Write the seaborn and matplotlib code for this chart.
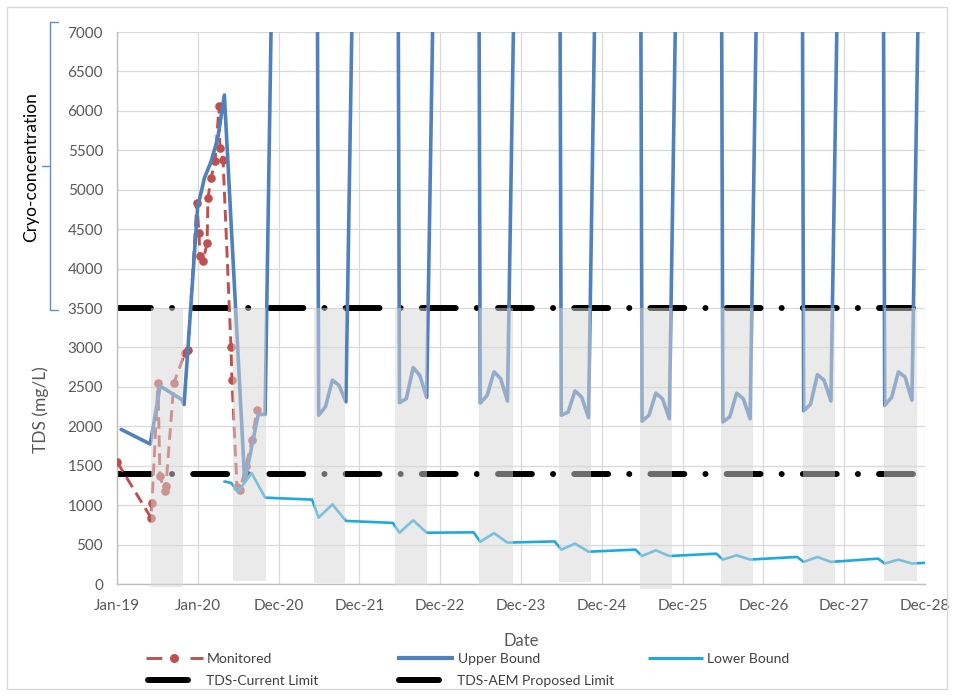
import numpy as np
import pandas as pd
import matplotlib
matplotlib.use("Agg")
import matplotlib.pyplot as plt
import matplotlib.dates as mdates
from matplotlib.lines import Line2D
import seaborn as sns

# ---------------- data ----------------
monitored_dates = ["2019-01-01", "2019-06-04", "2019-06-08", "2019-07-05", "2019-07-14",
                   "2019-08-06", "2019-08-10", "2019-09-15", "2019-11-04", "2019-11-18",
                   "2019-12-28", "2020-01-06", "2020-01-11", "2020-01-24", "2020-02-12",
                   "2020-02-16", "2020-03-01", "2020-03-19", "2020-04-06", "2020-04-10",
                   "2020-04-24", "2020-05-30", "2020-06-03", "2020-06-26", "2020-07-10",
                   "2020-08-06", "2020-09-02", "2020-09-24"]
monitored_tds = [1550, 838, 1028, 2550, 1366, 1176, 1240, 2550, 2930, 2970,
                 4830, 4450, 4155, 4090, 4320, 4895, 5150, 5360, 6060, 5530,
                 5380, 3000, 2590, 1235, 1193, 1500, 1830, 2210]

upper_dates = ["2019-01-20", "2019-05-31", "2019-07-15", "2019-10-20", "2019-10-31",
               "2019-12-31", "2020-01-31", "2020-02-29", "2020-03-31", "2020-04-30",
               "2020-07-31", "2020-09-30", "2020-10-31", "2020-11-30",
               "2021-05-31", "2021-06-30", "2021-07-31", "2021-08-31", "2021-09-30", "2021-10-31", "2021-11-30",
               "2022-05-31", "2022-06-30", "2022-07-31", "2022-08-31", "2022-09-30", "2022-10-31", "2022-11-30",
               "2023-05-31", "2023-06-30", "2023-07-31", "2023-08-31", "2023-09-30", "2023-10-31", "2023-11-30",
               "2024-05-31", "2024-06-30", "2024-07-31", "2024-08-31", "2024-09-30", "2024-10-31", "2024-11-30",
               "2025-05-31", "2025-06-30", "2025-07-31", "2025-08-31", "2025-09-30", "2025-10-31", "2025-11-30",
               "2026-05-31", "2026-06-30", "2026-07-31", "2026-08-31", "2026-09-30", "2026-10-31", "2026-11-30",
               "2027-05-31", "2027-06-30", "2027-07-31", "2027-08-31", "2027-09-30", "2027-10-31", "2027-11-30",
               "2028-05-31", "2028-06-30", "2028-07-31", "2028-08-31", "2028-09-30", "2028-10-31", "2028-11-30"]
upper_tds = [1960, 1775, 2510, 2340, 2275, 4770, 5150, 5350, 5650, 6200, 1300, 2150, 2150, 7600,
             30000, 2140, 2250, 2585, 2520, 2310, 7600,
             30000, 2300, 2350, 2745, 2645, 2365, 7600,
             30000, 2295, 2390, 2690, 2605, 2320, 7600,
             30000, 2140, 2180, 2450, 2370, 2110, 7600,
             30000, 2065, 2140, 2420, 2350, 2095, 7600,
             30000, 2055, 2120, 2420, 2350, 2095, 7600,
             30000, 2195, 2280, 2655, 2585, 2320, 7600,
             30000, 2265, 2365, 2690, 2625, 2330, 7600]

lower_dates = ["2020-04-30", "2020-05-31", "2020-06-30", "2020-08-31", "2020-10-31",
               "2021-05-31", "2021-06-30", "2021-08-31", "2021-10-31",
               "2022-05-31", "2022-06-30", "2022-08-31", "2022-10-31",
               "2023-05-31", "2023-06-30", "2023-08-31", "2023-10-31",
               "2024-05-31", "2024-06-30", "2024-08-31", "2024-10-31",
               "2025-05-31", "2025-06-30", "2025-08-31", "2025-10-31",
               "2026-05-31", "2026-06-30", "2026-08-31", "2026-10-31",
               "2027-05-31", "2027-06-30", "2027-08-31", "2027-10-31",
               "2028-05-31", "2028-06-30", "2028-08-31", "2028-10-31", "2028-12-29"]
lower_tds = [1300, 1282, 1167, 1408, 1095,
             1070, 842, 1010, 800,
             775, 650, 808, 650,
             655, 535, 645, 525,
             540, 436, 512, 410,
             436, 355, 427, 355,
             385, 310, 364, 310,
             343, 280, 343, 280,
             322, 260, 309, 260, 268]

limit_dates = ["2019-01-01", "2028-12-29"]
current_limit = [3500, 3500]
aem_limit = [1400, 1400]

season_start = ["2019-06-03", "2020-06-09", "2021-06-09", "2022-06-10", "2023-06-26",
                "2024-06-20", "2025-06-21", "2026-06-20", "2027-06-25", "2028-06-27"]
season_end = ["2019-10-27", "2020-11-03", "2021-10-27", "2022-10-31", "2023-11-23",
              "2024-11-10", "2025-11-11", "2026-11-12", "2027-11-20", "2028-11-21"]
season_floor = [-40, 40, 10, -10, -10, 25, -60, -25, 0, 40]
season_top = 3500

tick_dates = ["2019-01-01", "2020-01-01", "2020-12-31", "2021-12-31", "2022-12-31",
              "2023-12-31", "2024-12-30", "2025-12-30", "2026-12-30", "2027-12-30", "2028-12-29"]
tick_labels = ["Jan-19", "Jan-20", "Dec-20", "Dec-21", "Dec-22", "Dec-23",
               "Dec-24", "Dec-25", "Dec-26", "Dec-27", "Dec-28"]
y_ticks = [0, 500, 1000, 1500, 2000, 2500, 3000, 3500, 4000, 4500, 5000, 5500, 6000, 6500, 7000]

# ---------------- style ----------------
sns.set_theme(style="white")
plt.rcParams['font.family'] = ['Lato', 'DejaVu Sans']

RED = "#c0504d"
BLUE = "#4f81bd"
CYAN = "#1fa9e1"
TXT = "#595959"

W, H = 954, 696
fig = plt.figure(figsize=(W / 100, H / 100), dpi=100)
ax = fig.add_axes([117 / W, 1 - 584 / H, (925 - 117) / W, (584 - 32) / H])

df_mon = pd.DataFrame({"Date": pd.to_datetime(monitored_dates), "TDS": monitored_tds})
df_up = pd.DataFrame({"Date": pd.to_datetime(upper_dates), "TDS": upper_tds})
df_lo = pd.DataFrame({"Date": pd.to_datetime(lower_dates), "TDS": lower_tds})
df_cur = pd.DataFrame({"Date": pd.to_datetime(limit_dates), "TDS": current_limit})
df_aem = pd.DataFrame({"Date": pd.to_datetime(limit_dates), "TDS": aem_limit})

limit_style = dict(color="black", lw=4.3, linestyle=(0, (5.67, 3.54, 0.01, 3.54)),
                   dash_capstyle="round", estimator=None, sort=False, legend=False, zorder=2)
sns.lineplot(data=df_cur, x="Date", y="TDS", ax=ax, **limit_style)
sns.lineplot(data=df_aem, x="Date", y="TDS", ax=ax, **limit_style)

sns.lineplot(data=df_mon, x="Date", y="TDS", ax=ax, color=RED, lw=2.1,
             linestyle=(0, (4, 2.2)), marker="o", markersize=6.2,
             markeredgecolor=RED, markeredgewidth=0, estimator=None, sort=False,
             legend=False, zorder=3)
sns.lineplot(data=df_up, x="Date", y="TDS", ax=ax, color=BLUE, lw=2.6,
             estimator=None, sort=False, legend=False, zorder=4)
sns.lineplot(data=df_lo, x="Date", y="TDS", ax=ax, color=CYAN, lw=1.9,
             estimator=None, sort=False, legend=False, zorder=5)

# translucent seasonal bands drawn over the lines
for s, e, f in zip(season_start, season_end, season_floor):
    ax.fill_between(pd.to_datetime([s, e]), f, season_top, color="#d7d7d7",
                    alpha=0.5, lw=0, zorder=6, clip_on=False)

ax.set_xlim(pd.Timestamp(limit_dates[0]), pd.Timestamp(limit_dates[1]))
ax.set_ylim(0, 7000)
ax.set_xticks(mdates.date2num(pd.to_datetime(tick_dates)))
ax.set_xticklabels(tick_labels)
ax.set_yticks(y_ticks)
ax.set_yticklabels([str(v) for v in y_ticks])
ax.grid(True, color="#d9d9d9", lw=0.9)
ax.set_axisbelow(True)
for sp in ["top", "right"]:
    ax.spines[sp].set_visible(False)
for sp in ["left", "bottom"]:
    ax.spines[sp].set_color("#bfbfbf")
    ax.spines[sp].set_linewidth(1.0)
ax.tick_params(axis="both", length=0, labelsize=11, colors=TXT)
ax.tick_params(axis="x", pad=11)
ax.tick_params(axis="y", pad=10)
ax.set_xlabel("Date", fontsize=12, color=TXT, labelpad=14)
ax.set_ylabel("")

# y-axis labels and bracket
def fx(px):
    return px / W
def fy(py):
    return 1 - py / H

fig.text(fx(41), fy(410), "TDS (mg/L)", rotation=90, ha="center", va="center",
         fontsize=12.5, color=TXT)
fig.text(fx(31), fy(167), "Cryo-concentration", rotation=90, ha="center",
         va="center", fontsize=12.5, color="black")
bx, bt, bb, bm = 50, 22, 310, 166
fig.add_artist(Line2D([fx(bx + 8), fx(bx), fx(bx), fx(bx + 8)],
                      [fy(bt), fy(bt), fy(bb), fy(bb)], color="#5b8fd0", lw=1.0,
                      transform=fig.transFigure))
fig.add_artist(Line2D([fx(bx - 8), fx(bx)], [fy(bm), fy(bm)], color="#5b8fd0", lw=1.0,
                      transform=fig.transFigure))

# outer frame
fig.add_artist(plt.Rectangle((fx(7), fy(689)), (947 - 7) / W, (689 - 7) / H,
                             transform=fig.transFigure, fill=False, ec="#d9d9d9", lw=1))

# legend entries
h_mon = Line2D([], [], color=RED, lw=2.1, linestyle=(0, (5.4, 9.7)), marker="o",
               markersize=6.5, markeredgewidth=0)
h_up = Line2D([], [], color=BLUE, lw=3.0, solid_capstyle="butt")
h_lo = Line2D([], [], color=CYAN, lw=2.2, solid_capstyle="butt")
h_cur = Line2D([], [], color="black", lw=4.3, solid_capstyle="round")
h_aem = Line2D([], [], color="black", lw=4.3, solid_capstyle="round")

def add_entry(handle, label, x_px, y_px, hl_px, pad_px):
    fs = 10
    fig.legend(handles=[handle], labels=[label], loc="center left",
               bbox_to_anchor=(fx(x_px), fy(y_px)), frameon=False, fontsize=fs,
               handlelength=hl_px * 0.72 / fs, handletextpad=pad_px * 0.72 / fs,
               borderpad=0, borderaxespad=0, numpoints=1, labelcolor="#404040")

add_entry(h_mon, "Monitored", 146, 659, 57, 4)
add_entry(h_up, "Upper Bound", 397, 659, 57, 4)
add_entry(h_lo, "Lower Bound", 648, 659, 55, 4)
add_entry(h_cur, "TDS-Current Limit", 148, 681, 40, 18)
add_entry(h_aem, "TDS-AEM Proposed Limit", 399, 681, 40, 18)

fig.savefig("out.png", dpi=100)
